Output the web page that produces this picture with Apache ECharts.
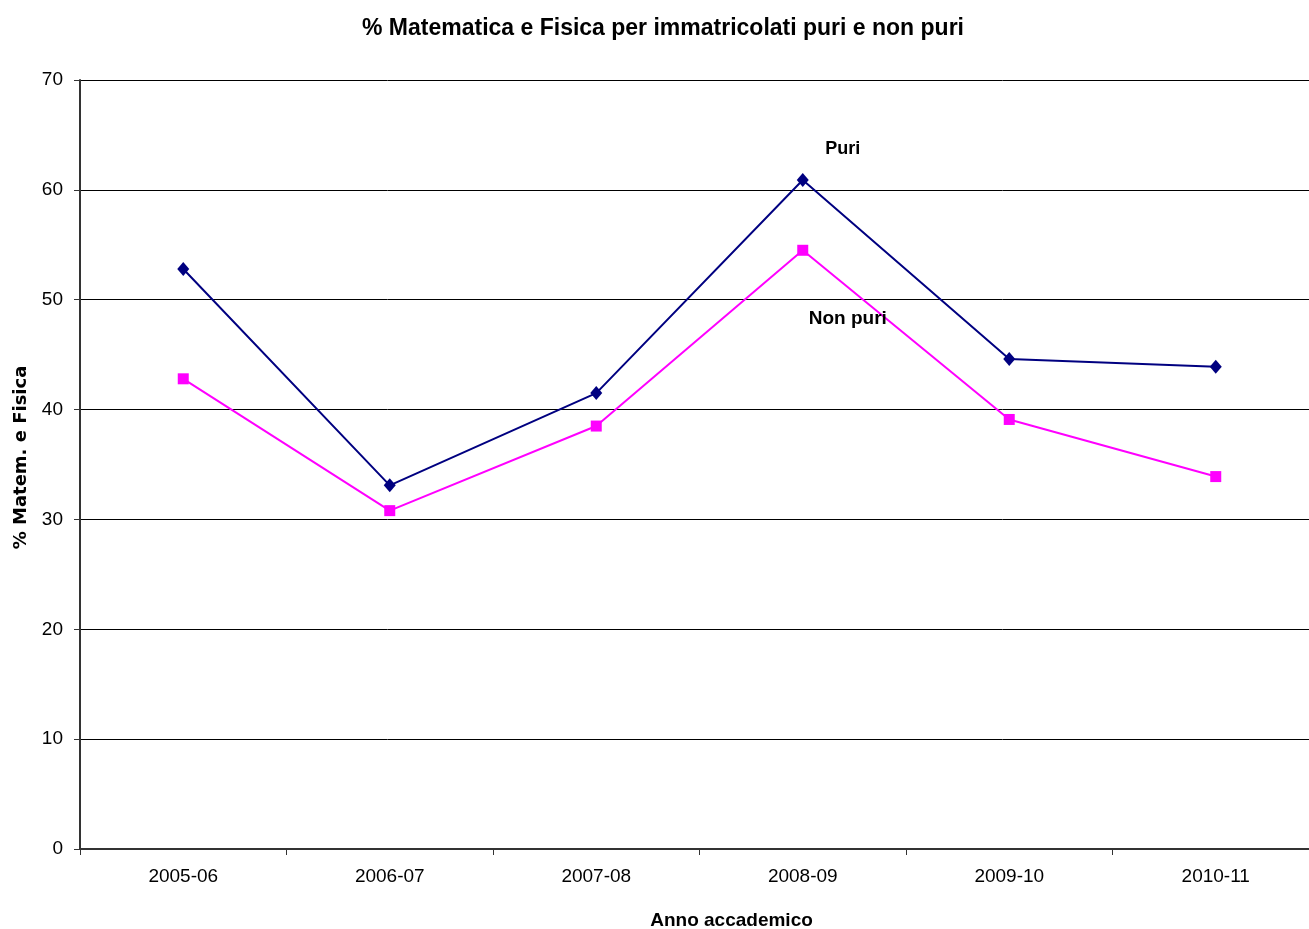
<!DOCTYPE html>
<html>
<head>
<meta charset="utf-8">
<script src="https://cdn.jsdelivr.net/npm/echarts@6/dist/echarts.min.js"></script>
<style>
html,body{margin:0;padding:0;background:#fff;}
#chart{width:1309px;height:929px;}
</style>
</head>
<body>
<div id="chart"></div>
<script>
var categories = ['2005-06', '2006-07', '2007-08', '2008-09', '2009-10', '2010-11'];
var puri = [52.8, 33.1, 41.5, 60.9, 44.6, 43.9];
var nonPuri = [42.8, 30.8, 38.5, 54.5, 39.1, 33.9];
var yTicks = [0, 10, 20, 30, 40, 50, 60, 70];

var font = 'Liberation Sans, Arial, sans-serif';

// label only on the 2008-09 point, like the original
function withLabel(arr, name, pos, off, size){
	return arr.map(function(v, i){
		if (i != 3) return v;
		return {value: v, label: {show: true, formatter: name, position: pos, offset: off,
			fontFamily: font, fontWeight: 'bold', fontSize: size, color: '#000'}};
	});
}

var myChart = echarts.init(document.getElementById('chart'));
myChart.setOption({
	animation: false,
	title: {
		text: '% Matematica e Fisica per immatricolati puri e non puri',
		left: 658, top: 12, textAlign: 'center',
		textStyle: {fontFamily: font, fontWeight: 'bold', fontSize: 23, color: '#000'}
	},
	grid: {left: 80, top: 80, right: -10, bottom: 80, containLabel: false, outerBoundsMode: 'none'},
	xAxis: {
		type: 'category',
		data: categories,
		boundaryGap: true,
		name: 'Anno accademico',
		nameLocation: 'middle',
		nameGap: 62,
		nameTextStyle: {fontFamily: font, fontWeight: 'bold', fontSize: 19, color: '#000', padding: [0, 0, 0, 64]},
		axisLine: {lineStyle: {color: '#333', width: 2}},
		axisTick: {show: true, length: 6, lineStyle: {color: '#333'}},
		axisLabel: {fontFamily: font, fontSize: 19, color: '#000', margin: 18},
		splitLine: {show: false}
	},
	yAxis: {
		type: 'value',
		min: yTicks[0], max: yTicks[yTicks.length - 1], interval: 10,
		name: '% Matem. e Fisica',
		nameLocation: 'middle',
		nameGap: 50,
		nameRotate: 90,
		nameTextStyle: {fontFamily: 'DejaVu Sans, sans-serif', fontWeight: 'bold', fontSize: 18, color: '#000', padding: [0, 0, 0, 14]},
		axisLine: {show: true, lineStyle: {color: '#333', width: 2}},
		axisTick: {show: true, length: 6, lineStyle: {color: '#333'}},
		axisLabel: {fontFamily: font, fontSize: 19, color: '#000', margin: 17},
		splitLine: {lineStyle: {color: '#000', width: 1}}
	},
	series: [
		{
			name: 'Puri',
			type: 'line',
			data: withLabel(puri, 'Puri', 'top', [40, -10], 18),
			symbol: 'diamond',
			symbolSize: [12, 14],
			lineStyle: {color: '#000080', width: 2},
			itemStyle: {color: '#000080'}
		},
		{
			name: 'Non puri',
			type: 'line',
			data: withLabel(nonPuri, 'Non puri', 'bottom', [45, 48], 19),
			symbol: 'rect',
			symbolSize: 11,
			lineStyle: {color: '#ff00ff', width: 2},
			itemStyle: {color: '#ff00ff'}
		}
	]
});
</script>
</body>
</html>
